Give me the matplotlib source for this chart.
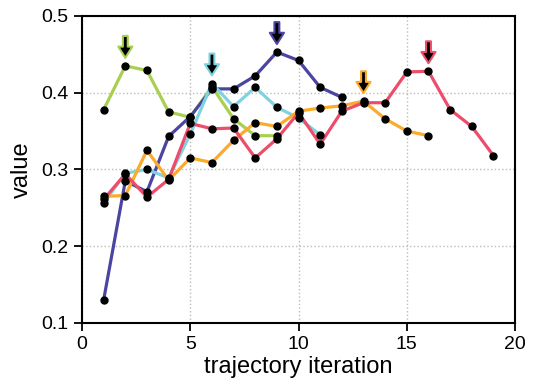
import matplotlib
matplotlib.use("Agg")
from matplotlib import pyplot as plt

plt.rcParams["font.family"] = ["Liberation Sans", "DejaVu Sans"]

# values
green_x = [1, 2, 3, 4, 5, 6, 7, 8, 9]
green_y = [0.378, 0.435, 0.429, 0.375, 0.368, 0.408, 0.366, 0.344, 0.344]

purple_x = [1, 2, 3, 4, 5, 6, 7, 8, 9, 10, 11, 12]
purple_y = [0.130, 0.285, 0.271, 0.343, 0.369, 0.405, 0.405, 0.422, 0.453, 0.442, 0.407, 0.394]

cyan_x = [1, 2, 3, 4, 5, 6, 7, 8, 9, 10, 11]
cyan_y = [0.256, 0.295, 0.300, 0.289, 0.346, 0.412, 0.382, 0.407, 0.381, 0.367, 0.345]

orange_x = [1, 2, 3, 4, 5, 6, 7, 8, 9, 10, 11, 12, 13, 14, 15, 16]
orange_y = [0.265, 0.266, 0.325, 0.286, 0.315, 0.309, 0.338, 0.361, 0.356, 0.376, 0.380, 0.383, 0.389, 0.366, 0.350, 0.344]

red_x = [1, 2, 3, 4, 5, 6, 7, 8, 9, 10, 11, 12, 13, 14, 15, 16, 17, 18, 19]
red_y = [0.261, 0.294, 0.264, 0.287, 0.360, 0.353, 0.354, 0.315, 0.340, 0.374, 0.333, 0.376, 0.387, 0.387, 0.427, 0.428, 0.378, 0.356, 0.318]

series = [
    (green_x, green_y, "#a9cf4f"),
    (purple_x, purple_y, "#4b44a0"),
    (cyan_x, cyan_y, "#7fd3e0"),
    (orange_x, orange_y, "#fbaa2c"),
    (red_x, red_y, "#ee4c6b"),
]

fig = plt.figure(figsize=(5.36, 3.9), dpi=100)
ax = fig.add_axes([0.153, 0.172, 0.808, 0.787])

for xs, ys, c in series:
    ax.plot(xs, ys, color=c, lw=2.3, zorder=2)
for xs, ys, c in series:
    ax.plot(xs, ys, "o", color="black", ms=5, zorder=3)

# arrows over each series' best value
for xs, ys, c in series:
    i = ys.index(max(ys))
    ax.annotate("", xy=(xs[i], ys[i] + 0.0105), xytext=(xs[i], ys[i] + 0.039),
                arrowprops=dict(arrowstyle="simple,head_length=0.62,head_width=0.78,tail_width=0.27",
                                fc="black", ec=c, lw=1.5, mutation_scale=13,
                                shrinkA=0, shrinkB=0),
                zorder=4)

ax.set_xlim(0, 20)
ax.set_ylim(0.1, 0.5)
ax.set_xticks([0, 5, 10, 15, 20])
ax.set_yticks([0.1, 0.2, 0.3, 0.4, 0.5])
ax.grid(True, color="#bbbbbb", ls=":", lw=1)
ax.tick_params(direction="out", length=6, width=1.3, labelsize=14)
for s in ax.spines.values():
    s.set_linewidth(1.5)

ax.set_xlabel("trajectory iteration", fontsize=17, labelpad=2)
ax.set_ylabel("value", fontsize=17, labelpad=6)

plt.savefig("out.png", dpi=100)
